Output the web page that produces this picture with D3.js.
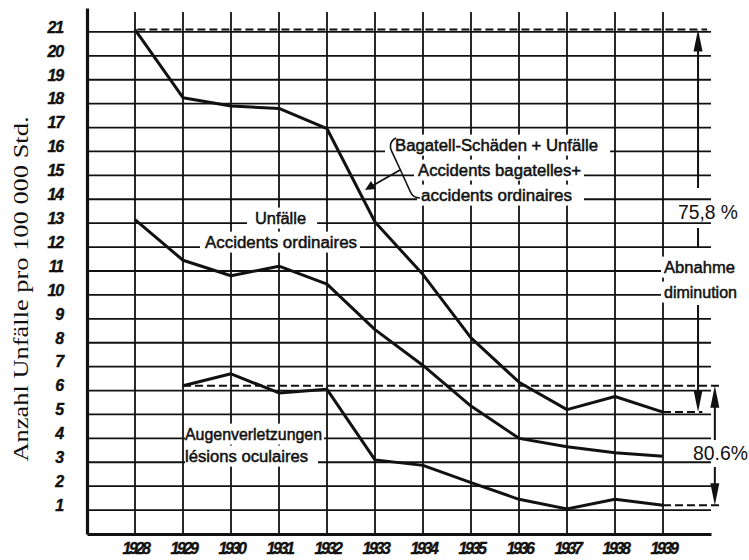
<!DOCTYPE html>
<html>
<head>
<meta charset="utf-8">
<script src="https://cdn.jsdelivr.net/npm/d3@7"></script>
<style>
  body { margin: 0; background: #fff; }
  svg { display: block; }
</style>
</head>
<body>
<div id="chart"></div>
<script>
// data (Unfälle pro 100 000 Std.)
const years = [1928, 1929, 1930, 1931, 1932, 1933, 1934, 1935, 1936, 1937, 1938, 1939];
const bagatell = [21.1, 18.25, 17.9, 17.8, 16.95, 13.05, 10.85, 8.2, 6.35, 5.2, 5.75, 5.1];
const unfaelle = [13.15, 11.45, 10.8, 11.2, 10.45, 8.55, 7.05, 5.35, 4.0, 3.65, 3.4, 3.25];
const augen = [null, 6.2, 6.7, 5.9, 6.05, 3.1, 2.87, 2.15, 1.45, 1.05, 1.45, 1.2];
const yTicks = d3.range(1, 22);
const pctTop = "75,8 %";
const pctBottom = "80.6%";

const width = 749, height = 560;
const ink = "#111";

const xScale = d3.scaleLinear().domain([1927, 1940]).range([87, 711]);
const yScale = d3.scaleLinear().domain([0, 22]).range([534, 8]);

const svg = d3.select("#chart").append("svg")
  .attr("width", width)
  .attr("height", height);

// + GRID
const grid = svg.append("g").attr("stroke", ink).attr("stroke-width", 1.8);
grid.selectAll("line.h").data(yTicks).join("line")
  .attr("class", "h")
  .attr("x1", xScale(1927)).attr("x2", xScale(1940))
  .attr("y1", d => yScale(d)).attr("y2", d => yScale(d));
grid.selectAll("line.v").data(years).join("line")
  .attr("class", "v")
  .attr("x1", d => xScale(d)).attr("x2", d => xScale(d))
  .attr("y1", yScale(21.83)).attr("y2", yScale(0));

// + AXES
const yAxis = d3.axisLeft(yScale).tickValues(yTicks).tickSize(0).tickPadding(24);
const xAxis = d3.axisBottom(xScale).tickValues(years).tickSize(0).tickPadding(9)
  .tickFormat(d3.format("d"));

function tickFont(g, size, spacing) {
  g.attr("font-family", null).attr("font-size", null);
  g.selectAll("text")
    .attr("fill", ink)
    .attr("stroke", ink).attr("stroke-width", 0.4)
    .attr("font-family", "Liberation Sans")
    .attr("font-size", size)
    .attr("font-style", "italic")
    .attr("font-weight", "bold")
    .attr("letter-spacing", spacing);
}

const gy = svg.append("g")
  .attr("transform", `translate(${xScale(1927)},0)`)
  .call(yAxis);
gy.select(".domain").attr("stroke", ink).attr("stroke-width", 3.2);
tickFont(gy, 16, -1.2);
gy.selectAll("text").attr("dy", "0.02em");

const gx = svg.append("g")
  .attr("transform", `translate(0,${yScale(0)})`)
  .call(xAxis);
gx.select(".domain").attr("stroke", ink).attr("stroke-width", 3.2);
tickFont(gx, 16, -2.4);

svg.append("text")
  .attr("transform", "translate(28,289) rotate(-90)")
  .attr("text-anchor", "middle")
  .attr("textLength", 345)
  .attr("lengthAdjust", "spacingAndGlyphs")
  .attr("fill", ink)
  .attr("font-family", "Liberation Serif")
  .attr("font-size", 22)
  .text("Anzahl Unfälle pro 100 000 Std.");

// + LABELS, each one knocks the grid out behind it
const notes = [
  { text: "Bagatell-Schäden + Unfälle", x: 395, y: 145, len: 203, padL: 10, padR: 12 },
  { text: "Accidents bagatelles+", x: 418, y: 170, len: 163, padL: 4, padR: 3 },
  { text: "accidents ordinaires", x: 421, y: 195, len: 151, padL: 4, padR: 12 },
  { text: "Unfälle", x: 255, y: 218, len: 51, padL: 8, padR: 11 },
  { text: "Accidents ordinaires", x: 205, y: 242, len: 152, padL: 5, padR: 3 },
  { text: "Augenverletzungen", x: 185, y: 434, len: 137, padL: 0, padR: 2 },
  { text: "lésions oculaires", x: 185, y: 456, len: 123, padL: 0, padR: 10 },
  { text: "Abnahme", x: 664, y: 267, len: 71, padL: 3, padR: 20 },
  { text: "diminution", x: 664, y: 292, len: 73, padL: 3, padR: 20 }
];

const knock = svg.append("g");
const labels = svg.append("g");
notes.forEach(n => {
  const t = labels.append("text")
    .attr("x", n.x).attr("y", n.y).attr("dy", "0.35em")
    .attr("textLength", n.len)
    .attr("lengthAdjust", "spacingAndGlyphs")
    .attr("fill", ink)
    .attr("stroke", ink).attr("stroke-width", 0.5)
    .attr("font-family", "Liberation Sans")
    .attr("font-size", 16)
    .text(n.text);
  const b = t.node().getBBox();
  knock.append("rect")
    .attr("x", b.x - n.padL).attr("y", b.y - 2)
    .attr("width", b.width + n.padL + n.padR).attr("height", b.height + 4)
    .attr("fill", "#fff");
});

// + LINES
const line = d3.line()
  .defined(d => d[1] != null)
  .x(d => xScale(d[0]))
  .y(d => yScale(d[1]));

[bagatell, unfaelle, augen].forEach(s => {
  svg.append("path")
    .datum(years.map((yr, i) => [yr, s[i]]))
    .attr("fill", "none")
    .attr("stroke", ink)
    .attr("stroke-width", 3)
    .attr("stroke-linejoin", "round")
    .attr("d", line);
});

// + REFERENCE DASHES
const dashes = [
  { v: bagatell[0], x1: 1928.05, x2: 1939.92 },
  { v: augen[1], x1: 1929, x2: 1940.23 },
  { v: bagatell[11], x1: 1939, x2: 1939.82 },
  { v: augen[11], x1: 1939, x2: 1940.23 }
];
svg.append("g").selectAll("line").data(dashes).join("line")
  .attr("x1", d => xScale(d.x1)).attr("x2", d => xScale(d.x2))
  .attr("y1", d => yScale(d.v)).attr("y2", d => yScale(d.v))
  .attr("stroke", ink)
  .attr("stroke-width", 2)
  .attr("stroke-dasharray", "8,4");

// + DECREASE ARROWS
function head(x, tip, dir) {
  // dir -1 points up, +1 points down
  const base = tip - dir * 22;
  svg.append("path")
    .attr("d", `M${x},${tip}L${x - 4.5},${base}L${x + 4.5},${base}Z`)
    .attr("fill", ink);
}
function shaft(x, a, b) {
  svg.append("line")
    .attr("x1", x).attr("x2", x).attr("y1", a).attr("y2", b)
    .attr("stroke", ink).attr("stroke-width", 2);
}

const ax1 = xScale(1939.73);
head(ax1, yScale(bagatell[0]), -1);
shaft(ax1, yScale(bagatell[0]) + 10, 188);
shaft(ax1, 228, 248);
shaft(ax1, 305, yScale(bagatell[11]) - 10);
head(ax1, yScale(bagatell[11]), 1);

const ax2 = xScale(1940.08);
head(ax2, yScale(augen[1]), -1);
shaft(ax2, yScale(augen[1]) + 10, 440);
shaft(ax2, 467, yScale(augen[11]) - 10);
head(ax2, yScale(augen[11]), 1);

function pct(txt, x, y, len) {
  svg.append("text")
    .attr("x", x).attr("y", y).attr("dy", "0.35em")
    .attr("textLength", len).attr("lengthAdjust", "spacingAndGlyphs")
    .attr("fill", ink)
    .attr("font-family", "Liberation Sans")
    .attr("font-size", 20)
    .text(txt);
}
pct(pctTop, 678, 212, 60);
pct(pctBottom, 693, 453, 55);

// + BRACE pointing at the top curve
svg.append("path")
  .attr("d", "M396,138C390,141 389,147 392,152L400,169L410,191C412,196 415,198 420,198")
  .attr("fill", "none").attr("stroke", ink).attr("stroke-width", 1.6);
svg.append("line")
  .attr("x1", 400).attr("y1", 170).attr("x2", 372).attr("y2", 186)
  .attr("stroke", ink).attr("stroke-width", 1.8);
svg.append("path")
  .attr("d", "M365,190L371,181L376,189Z")
  .attr("fill", ink);
</script>
</body>
</html>
